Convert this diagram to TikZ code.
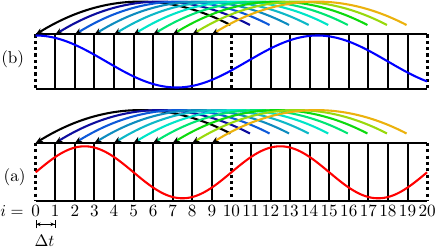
\documentclass[tikz,border=0pt]{standalone}
\usetikzlibrary{arrows.meta}
\definecolor{c0}{rgb}{0,0,0}
\definecolor{c1}{rgb}{0.05,0.05,0.62}
\definecolor{c2}{rgb}{0.05,0.35,0.85}
\definecolor{c3}{rgb}{0.05,0.55,0.75}
\definecolor{c4}{rgb}{0.05,0.72,0.78}
\definecolor{c5}{rgb}{0.0,0.9,0.78}
\definecolor{c6}{rgb}{0.0,0.9,0.45}
\definecolor{c7}{rgb}{0.05,0.85,0.05}
\definecolor{c8}{rgb}{0.6,0.85,0.05}
\definecolor{c9}{rgb}{0.92,0.7,0.05}
\begin{document}
\begin{tikzpicture}[x=0.6pt,y=-0.6pt,
  gridline/.style={line width=1.2pt},
  dotline/.style={line width=1.9pt,dash pattern=on 1.9pt off 1.9pt},
  wave/.style={line width=1.25pt},
  arcarrow/.style={line width=1.25pt,-{Stealth[black,length=4.3pt,width=3.4pt]}},
  lbl/.style={font=\fontsize{10.3}{12.5}\selectfont, inner sep=0pt}]
\useasboundingbox (0,0) rectangle (436,249);
\def\xo{35.7}\def\dx{19.57}
\def\bT{34.5}\def\bB{89}\def\aT{143}\def\aB{201.5}
% grid coordinates
\foreach \i in {0,...,20}{
  \coordinate (bt\i) at ({\xo+\dx*\i},\bT);
  \coordinate (bb\i) at ({\xo+\dx*\i},\bB);
  \coordinate (at\i) at ({\xo+\dx*\i},\aT);
  \coordinate (ab\i) at ({\xo+\dx*\i},\aB);
}
% vertical lines
\foreach \i in {1,...,9,11,12,...,19}{
  \draw[gridline] (bt\i) -- (bb\i);
  \draw[gridline] (at\i) -- (ab\i);
}
\draw[gridline] (bt0) -- (bt20);
\draw[gridline] (bb0) -- (bb20);
\draw[gridline] (at0) -- (at20);
\draw[gridline] (ab0) -- (ab20);
\foreach \i in {0,10,20}{
  \draw[dotline] (bt\i) -- (bb\i);
  \draw[dotline] (at\i) -- (ab\i);
}
% waves
\draw[wave,blue] plot[domain=0:20,samples=160,smooth] ({\xo+\dx*\x},{61.5-26*cos(25*\x)});
\draw[wave,red] plot[domain=0:20,samples=160,smooth] ({\xo+\dx*\x},{172.3-26*sin(36*\x)});
% arcs
\foreach \T/\p in {\bT/b,\aT/a}{
  \foreach \j in {0,...,9}{
    \pgfmathsetmacro\xs{\xo+\dx*(\j+10)-1}
    \pgfmathsetmacro\xe{\xo+\dx*\j}
    \pgfmathsetmacro\xm{(\xs+\xe)/2}
    \coordinate (\p s\j) at (\xs,\T-9.5);
    \coordinate (\p c\j) at ({\xs+2/3*(\xm-\xs)},\T-43.2);
    \coordinate (\p d\j) at ({\xe+2/3*(\xm-\xe)},\T-40.2);
    \draw[arcarrow,c\j] (\p s\j) .. controls (\p c\j) and (\p d\j) .. (\p t\j);
  }
}
% labels
\node[lbl,anchor=east] (lb) at (24.5,59) {(b)};
\node[lbl,anchor=east] (la) at (26,177) {(a)};
\node[lbl,anchor=base east] (li) at (24,216.5) {$i=$};
\foreach \i in {0,...,20}{
  \node[lbl,anchor=base] (n\i) at ({\xo+\dx*\i},216.5) {\i};
}
\coordinate (dl) at (\xo,224.3);
\coordinate (dr) at ({\xo+\dx},224.3);
\draw[line width=0.4pt,{Bar[width=5pt]Stealth[length=2.5pt,width=2.2pt]}-{Stealth[length=2.5pt,width=2.2pt]Bar[width=5pt]}] (dl) -- (dr);
\node[lbl,anchor=base] (dt) at (44.5,247) {$\Delta t$};
\end{tikzpicture}
\end{document}
